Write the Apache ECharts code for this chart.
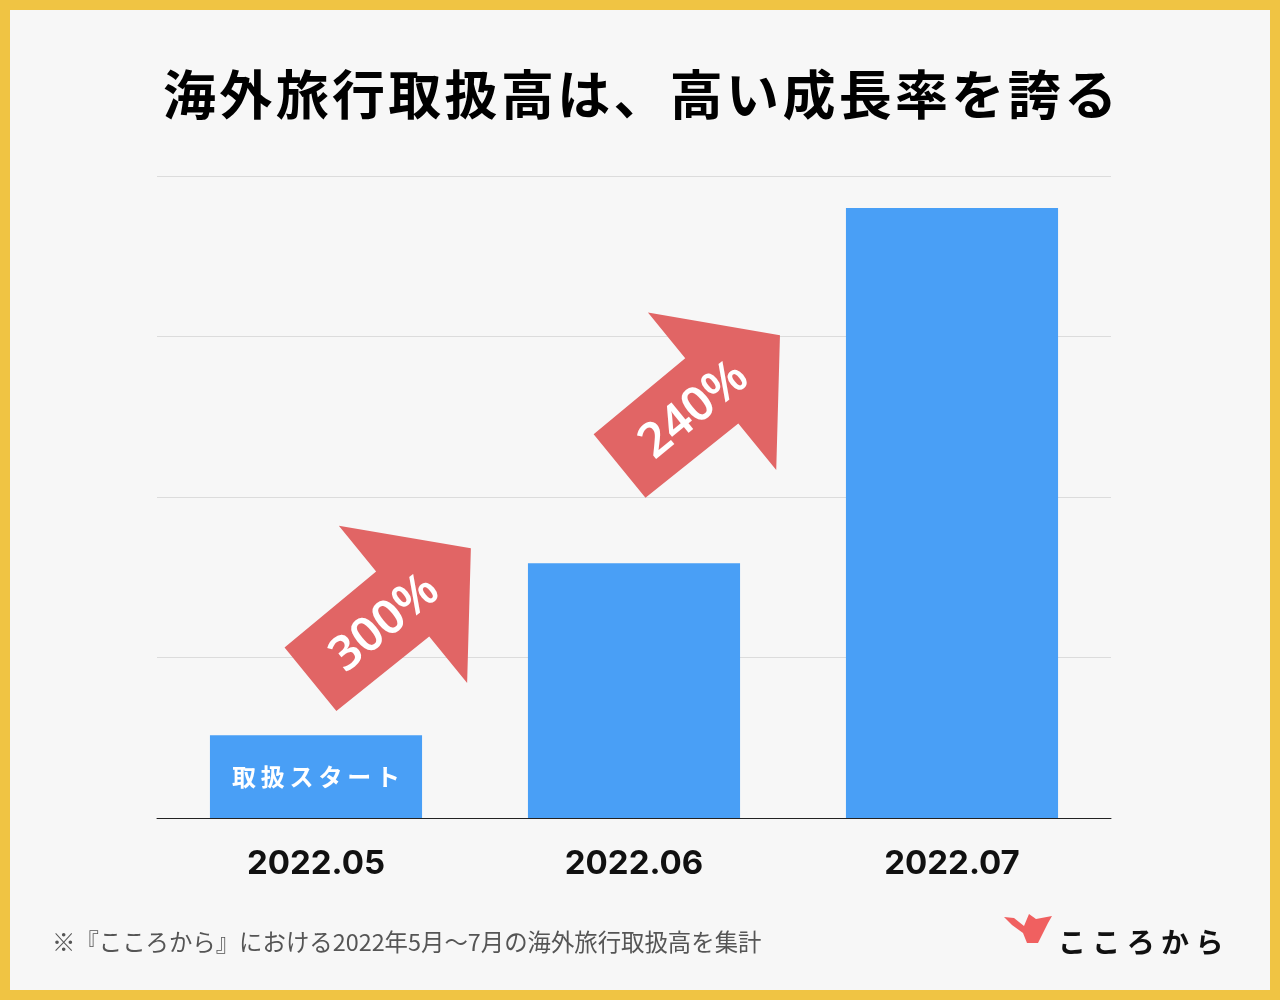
<!DOCTYPE html>
<html>
<head>
<meta charset="utf-8">
<script src="https://cdn.jsdelivr.net/npm/echarts@6/dist/echarts.min.js"></script>
<style>
html,body{margin:0;padding:0;background:#f0c443;}
#chart{width:1280px;height:1000px;}
</style>
</head>
<body>
<div id="chart"></div>
<script>
// ---- data ----
const categories = ['2022.05', '2022.06', '2022.07'];
const values = [12.9, 39.7, 95.0];
const barNotes = ['取扱スタート', '', ''];
const growthLabels = ['300%', '240%'];
const yMin = 0, yMax = 100, yInterval = 25;

const titleText = '海外旅行取扱高は、高い成長率を誇る';
const footnoteText = '※『こころから』における2022年5月〜7月の海外旅行取扱高を集計';
const logoText = 'こころから';

const spaced = (s, sp) => Array.from(s).join(sp);
const THIN = '\u2009', HAIR = '\u200A';

const CJK = '"Noto Sans CJK JP", "Noto Sans", sans-serif';
const BLUE = '#499ff6';
const RED = '#e16565';

const chart = echarts.init(document.getElementById('chart'), null, {renderer: 'canvas'});

const baseOption = {
  backgroundColor: '#f0c443',
  animation: false,
  title: {
    text: spaced(titleText, HAIR),
    left: 'center',
    top: 63,
    textStyle: {fontFamily: CJK, fontSize: 53, fontWeight: 'bold', color: '#000'}
  },
  grid: {left: 157, right: 169, top: 176, bottom: 182, containLabel: false},
  xAxis: {
    type: 'category',
    data: categories,
    axisLine: {lineStyle: {color: '#222', width: 1}},
    axisTick: {show: false},
    axisLabel: {
      margin: 30,
      fontFamily: 'Inter, "Noto Sans", sans-serif',
      fontSize: 33,
      fontWeight: 'bold',
      color: '#111'
    }
  },
  yAxis: {
    type: 'value',
    min: yMin, max: yMax, interval: yInterval,
    axisLine: {show: false},
    axisTick: {show: false},
    axisLabel: {show: false},
    splitLine: {lineStyle: {color: '#dcdcdc', width: 1}}
  },
  series: [{
    type: 'bar',
    barWidth: '66.7%',
    itemStyle: {color: BLUE},
    data: values.map((v, i) => ({
      value: v,
      label: {
        show: !!barNotes[i],
        position: 'inside',
        formatter: spaced(barNotes[i] || '', THIN),
        fontFamily: CJK,
        fontSize: 24,
        fontWeight: 'bold',
        color: '#fff'
      }
    }))
  }]
};
chart.setOption(baseOption);

// ---- annotations placed via the chart's own scales ----
function px(catPos, val) {
  const a = chart.convertToPixel({gridIndex: 0}, [0, val]);
  const b = chart.convertToPixel({gridIndex: 0}, [1, val]);
  return [a[0] + (b[0] - a[0]) * catPos, a[1]];
}
const arrowPts = [[0,0],[-88,102],[-88,42],[-207,41],[-207,-41],[-88,-42],[-88,-101]];
const rot = 39.2 * Math.PI / 180;
const arrowAnchors = [[0.487, 42.0], [1.459, 75.2]];

const graphics = [
  {
    type: 'rect', z: -100, silent: true,
    shape: {x: 10, y: 10, width: 1260, height: 980},
    style: {fill: '#f7f7f7'}
  }
];
arrowAnchors.forEach((an, i) => {
  const p = px(an[0], an[1]);
  graphics.push({
    type: 'group', x: p[0], y: p[1], rotation: rot, z: 10,
    children: [
      {type: 'polygon', shape: {points: arrowPts}, style: {fill: RED}},
      {type: 'text', x: -114, y: 4,
       style: {text: growthLabels[i], fill: '#fff', textAlign: 'center', textVerticalAlign: 'middle',
               font: '600 48px "Noto Sans", "Open Sans", sans-serif'}}
    ]
  });
});
graphics.push({
  type: 'text', x: 52, y: 942,
  style: {text: footnoteText, fill: '#555', textAlign: 'left', textVerticalAlign: 'middle',
          font: '23.4px ' + CJK}
});
graphics.push({
  type: 'polygon',
  shape: {points: [[1004,917],[1014,918],[1024,926],[1029,914],[1036,919],[1052,916],[1048,923],[1038,943],[1027,943],[1023,933],[1012,925]]},
  style: {fill: '#f06060'}
});
graphics.push({
  type: 'text', x: 1058, y: 942,
  style: {text: Array.from(logoText).join(' '), fill: '#111', textAlign: 'left', textVerticalAlign: 'middle',
          font: 'bold 28px ' + CJK}
});
chart.setOption({graphic: graphics});
</script>
</body>
</html>
